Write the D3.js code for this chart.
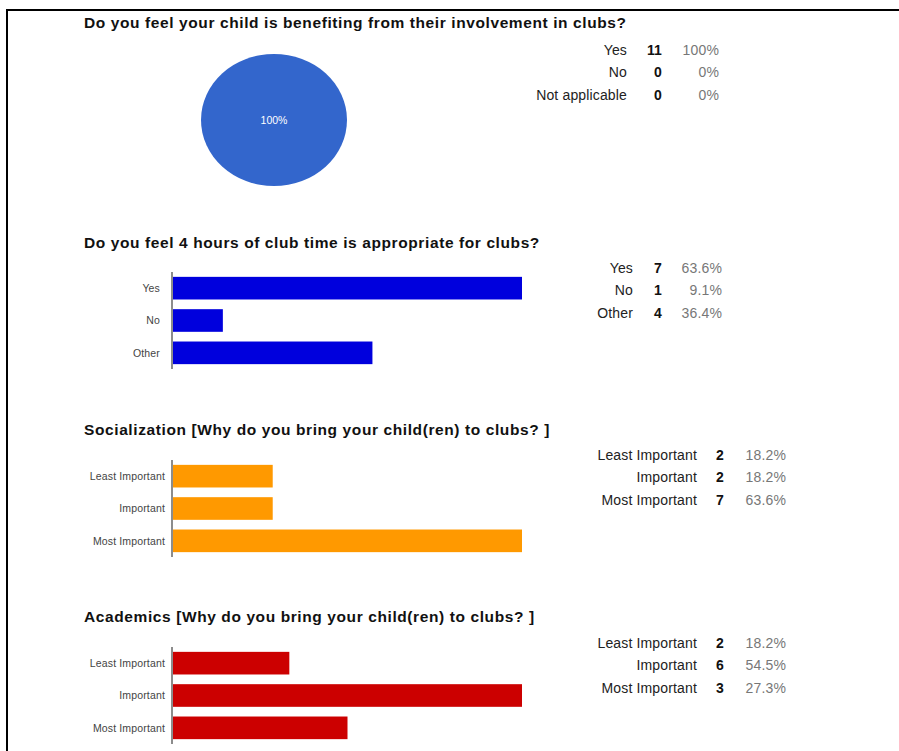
<!DOCTYPE html>
<html><head><meta charset="utf-8">
<script src="https://cdn.jsdelivr.net/npm/d3@7"></script>
<style>
html,body{margin:0;padding:0;background:#fff;}
svg{display:block;font-family:"Liberation Sans",Arial,sans-serif;}
</style></head>
<body>
<script>
// ---- data ----
const q1Title = "Do you feel your child is benefiting from their involvement in clubs?";
const q1Cats = ["Yes", "No", "Not applicable"];
const q1Vals = [11, 0, 0];
const q1Pcts = ["100%", "0%", "0%"];

const q2Title = "Do you feel 4 hours of club time is appropriate for clubs?";
const q2Cats = ["Yes", "No", "Other"];
const q2Vals = [7, 1, 4];
const q2Pcts = ["63.6%", "9.1%", "36.4%"];

const q3Title = "Socialization [Why do you bring your child(ren) to clubs? ]";
const q3Cats = ["Least Important", "Important", "Most Important"];
const q3Vals = [2, 2, 7];
const q3Pcts = ["18.2%", "18.2%", "63.6%"];

const q4Title = "Academics [Why do you bring your child(ren) to clubs? ]";
const q4Cats = ["Least Important", "Important", "Most Important"];
const q4Vals = [2, 6, 3];
const q4Pcts = ["18.2%", "54.5%", "27.3%"];

const W = 899, H = 751;
const svg = d3.select("body").append("svg").attr("width", W).attr("height", H);

// frame
svg.append("line").attr("x1", 6).attr("x2", W).attr("y1", 10).attr("y2", 10)
  .attr("stroke", "#000").attr("stroke-width", 2);
svg.append("line").attr("x1", 7).attr("x2", 7).attr("y1", 9).attr("y2", H)
  .attr("stroke", "#000").attr("stroke-width", 2);

function title(t, y) {
  svg.append("text").attr("x", 84).attr("y", y).attr("font-size", 15.5)
    .attr("letter-spacing", 0.6)
    .attr("font-weight", "bold").attr("fill", "#111").text(t);
}

function table(cats, vals, pcts, xLab, xCnt, xPct, y0) {
  const g = svg.append("g").attr("font-size", 14).attr("letter-spacing", 0.15);
  cats.forEach((c, i) => {
    const y = y0 + i * 22.3;
    g.append("text").attr("x", xLab).attr("y", y).attr("text-anchor", "end")
      .attr("dy", "0.35em").attr("fill", "#222").text(c);
    g.append("text").attr("x", xCnt).attr("y", y).attr("text-anchor", "end")
      .attr("dy", "0.35em").attr("fill", "#111").attr("font-weight", "bold").text(vals[i]);
    g.append("text").attr("x", xPct).attr("y", y).attr("text-anchor", "end")
      .attr("dy", "0.35em").attr("fill", "#777").text(pcts[i]);
  });
}

function bars(cats, vals, color, yTop, labelX) {
  const x = d3.scaleLinear().domain([0, d3.max(vals)]).range([173, 522]);
  const y = d3.scaleBand().domain(cats).range([yTop, yTop + 97])
    .paddingInner(0.3).paddingOuter(0.15);
  svg.append("g").selectAll("rect").data(vals).join("rect")
    .attr("x", x(0)).attr("y", (d, i) => y(cats[i]))
    .attr("width", d => x(d) - x(0)).attr("height", y.bandwidth())
    .attr("fill", color);
  svg.append("g").selectAll("text").data(cats).join("text")
    .attr("x", labelX).attr("y", d => y(d) + y.bandwidth() / 2)
    .attr("dy", "0.35em").attr("text-anchor", "end")
    .attr("font-size", 10.5).attr("letter-spacing", 0.15)
    .attr("fill", "#444").text(d => d);
  svg.append("line").attr("x1", 172).attr("x2", 172)
    .attr("y1", yTop).attr("y2", yTop + 97)
    .attr("stroke", "#666").attr("stroke-width", 1.5);
}

// ---- Q1 pie ----
title(q1Title, 28);
const pie = d3.pie().sort(null)(q1Vals);
const arc = d3.arc().innerRadius(0).outerRadius(66);
const pg = svg.append("g").attr("transform", "translate(274,120) scale(1.106,1)");
pg.selectAll("path").data(pie).join("path").attr("d", arc)
  .attr("fill", (d, i) => ["#3366CC", "#DC3912", "#FF9900"][i]);
svg.append("text").attr("x", 274).attr("y", 120).attr("dy", "0.35em")
  .attr("text-anchor", "middle").attr("font-size", 10.5).attr("fill", "#fff")
  .text(q1Pcts[0]);
table(q1Cats, q1Vals, q1Pcts, 627, 662, 719, 50);

// ---- Q2 ----
title(q2Title, 248);
bars(q2Cats, q2Vals, "#0000DD", 272, 160);
table(q2Cats, q2Vals, q2Pcts, 633, 662, 722, 268);

// ---- Q3 ----
title(q3Title, 435);
bars(q3Cats, q3Vals, "#FF9900", 460, 165);
table(q3Cats, q3Vals, q3Pcts, 697, 724, 786, 455);

// ---- Q4 ----
title(q4Title, 622);
bars(q4Cats, q4Vals, "#CC0000", 647, 165);
table(q4Cats, q4Vals, q4Pcts, 697, 724, 786, 643);
</script>
</body></html>
